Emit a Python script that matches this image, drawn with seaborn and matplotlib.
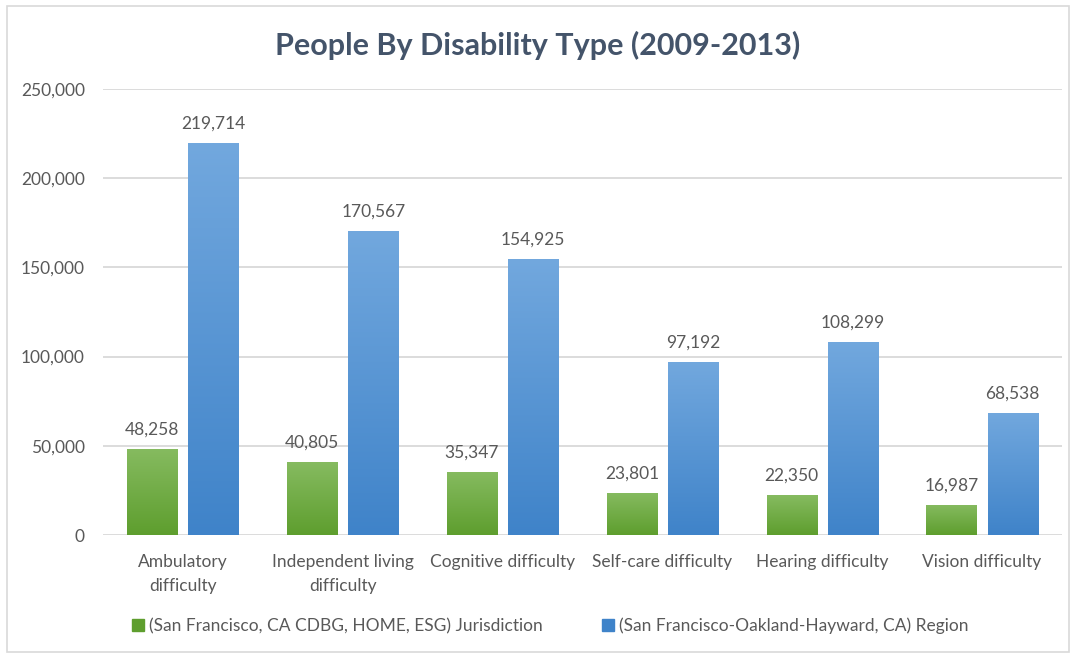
import numpy as np
import pandas as pd
import matplotlib
matplotlib.use("Agg")
import matplotlib.pyplot as plt
import seaborn as sns
from matplotlib.patches import Rectangle
from matplotlib.colors import LinearSegmentedColormap

categories = ["Ambulatory\ndifficulty", "Independent living\ndifficulty", "Cognitive difficulty",
              "Self-care difficulty", "Hearing difficulty", "Vision difficulty"]
series_names = ["(San Francisco, CA CDBG, HOME, ESG) Jurisdiction",
                "(San Francisco-Oakland-Hayward, CA) Region"]
jurisdiction = [48258, 40805, 35347, 23801, 22350, 16987]
region = [219714, 170567, 154925, 97192, 108299, 68538]
yticks = [0, 50000, 100000, 150000, 200000, 250000]

df = pd.DataFrame({
    "category": categories * 2,
    "series": [series_names[0]] * len(categories) + [series_names[1]] * len(categories),
    "value": jurisdiction + region,
})

sns.set_theme(style="white")
plt.rcParams["font.family"] = ["Lato", "DejaVu Sans"]

text_color = "#595959"
grid_color = "#D9D9D9"
green_top, green_bot = "#86BB60", "#5E9E2E"
blue_top, blue_bot = "#72A8DE", "#3F83C9"
fs = 12.5

fig = plt.figure(figsize=(10.76, 6.56), dpi=100)
ax = fig.add_axes([103 / 1076, (656 - 535) / 656, (1062 - 103) / 1076, (535 - 89) / 656])

sns.barplot(data=df, x="category", y="value", hue="series", order=categories,
            hue_order=series_names, palette=[green_bot, blue_bot], width=0.765, gap=0.18,
            ax=ax, legend=True, zorder=3)

ax.set_ylim(0, 250000)
ax.set_yticks(yticks)
ax.set_yticklabels([f"{v:,}" for v in yticks], fontsize=fs, color=text_color)
ax.tick_params(axis="y", length=0, pad=13)
ax.tick_params(axis="x", length=0, pad=14, labelsize=fs, labelcolor=text_color)
for lbl in ax.get_xticklabels():
    lbl.set_linespacing(1.55)
ax.set_xlabel("")
ax.set_ylabel("")
for s in ax.spines.values():
    s.set_visible(False)
ax.yaxis.grid(True, color=grid_color, linewidth=1.3, zorder=0)
ax.set_axisbelow(True)

# gradient fills
xlim = ax.get_xlim()
cmaps = [LinearSegmentedColormap.from_list("g", [green_bot, green_top]),
         LinearSegmentedColormap.from_list("b", [blue_bot, blue_top])]
grad = np.linspace(0, 1, 256).reshape(-1, 1)
for i, container in enumerate(ax.containers):
    for p in container.patches:
        x0, y0 = p.get_x(), p.get_y()
        w, h = p.get_width(), p.get_height()
        p.set_edgecolor("none")
        im = ax.imshow(grad, cmap=cmaps[i], origin="lower", aspect="auto",
                       extent=[x0, x0 + w, y0, y0 + h], zorder=4)
        im.set_clip_path(p)
    ax.bar_label(container, labels=[f"{v:,.0f}" for v in container.datavalues],
                 padding=8, fontsize=fs, color=text_color, zorder=5)
ax.set_xlim(xlim)
ax.set_ylim(0, 250000)

handles = ax.get_legend().legend_handles
ax.get_legend().remove()
leg = fig.legend(handles=handles, labels=series_names,
                 loc="center", bbox_to_anchor=(550 / 1076, 1 - 626 / 656), ncol=2, frameon=False,
                 fontsize=fs, handlelength=0.7, handleheight=0.7, handletextpad=0.3,
                 columnspacing=3.4, labelcolor=text_color)
leg.legend_handles[0].set_color(green_bot)
leg.legend_handles[1].set_color(blue_bot)

fig.text(0.5, 1 - 45 / 656, "People By Disability Type (2009-2013)", ha="center", va="center",
         fontsize=22, fontweight="bold", color="#44546A")

fig.patches.append(Rectangle((7 / 1076, 4 / 656), 1062 / 1076, 646 / 656, transform=fig.transFigure,
                             fill=False, edgecolor=grid_color, linewidth=1.2))

fig.savefig("out.png", dpi=100)
